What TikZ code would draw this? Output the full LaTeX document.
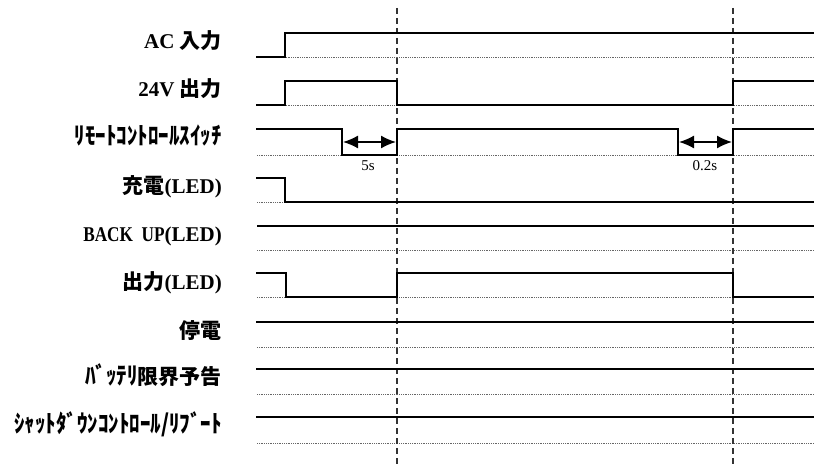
\documentclass[tikz,border=0pt]{standalone}
\usepackage{fontspec}
\usepackage{graphicx}
\setmainfont{Liberation Serif}
\newfontfamily\jp{Noto Sans CJK JP}
\usetikzlibrary{arrows.meta}
\newcommand{\kana}[1]{\scalebox{1}[1.15]{\jp\bfseries #1}}
\begin{document}
\begin{tikzpicture}[x=1pt,y=-1pt,
  sig/.style={line width=2.2pt, line join=miter, line cap=rect},
  refline/.style={line width=0.7pt, black!60, dash pattern=on 0.8pt off 1pt},
  vguide/.style={line width=1.1pt, black!80, dash pattern=on 6pt off 4pt},
  lbl/.style={anchor=base east, inner sep=0pt, font=\fontsize{21}{21}\selectfont},
  durarrow/.style={{Latex[length=15pt,width=13pt]}-{Latex[length=15pt,width=13pt]}, line width=1.6pt},
  durtxt/.style={font=\fontsize{15}{15}\selectfont, inner sep=0pt}]
\useasboundingbox (0,0) rectangle (814,465);

% reference (low level) dotted lines
\foreach \y in {57,105,155,202,250,297,347,394,443}
  \draw[refline] (257,\y) -- (814,\y);

% vertical dashed guides
\draw[vguide] (397,8) -- (397,465);
\draw[vguide] (733,8) -- (733,465);

% waveforms
\draw[sig] (257,57) -- (285,57) -- (285,33) -- (814,33);
\draw[sig] (257,105) -- (285,105) -- (285,81) -- (397,81) -- (397,105) -- (733,105) -- (733,81) -- (814,81);
\draw[sig] (257,129) -- (342,129) -- (342,155) -- (397,155) -- (397,129) -- (678,129) -- (678,155) -- (733,155) -- (733,129) -- (814,129);
\draw[sig] (257,178) -- (285,178) -- (285,202) -- (814,202);
\draw[sig] (258,226) -- (814,226);
\draw[sig] (257,273) -- (286,273) -- (286,297) -- (397,297) -- (397,273) -- (733,273) -- (733,297) -- (814,297);
\draw[sig] (257,322) -- (814,322);
\draw[sig] (257,369) -- (814,369);
\draw[sig] (257,417) -- (814,417);

% duration arrows
\coordinate (a1) at (343,142);
\coordinate (b1) at (396,142);
\coordinate (a2) at (679,142);
\coordinate (b2) at (732,142);
\draw[durarrow] (a1) -- (b1);
\draw[durarrow] (a2) -- (b2);
\node[durtxt] (t5) at (368,166) {5s};
\node[durtxt] (t02) at (705,166) {0.2s};

% labels
\node[lbl] (l1) at (222,49) {\textbf{AC} {\jp\bfseries 入力}};
\node[lbl] (l2) at (222,97) {\textbf{24V} {\jp\bfseries 出力}};
\node[lbl] (l3) at (222,145) {\kana{ﾘﾓｰﾄｺﾝﾄﾛｰﾙｽｲｯﾁ}};
\node[lbl] (l4) at (222,194) {{\jp\bfseries 充電}\textbf{(LED)}};
\node[lbl] (l5) at (222,242) {\scalebox{0.82}[1]{\textbf{BACK\ \ UP}}\textbf{(LED)}};
\node[lbl] (l6) at (222,289) {{\jp\bfseries 出力}\textbf{(LED)}};
\node[lbl] (l7) at (222,338) {\jp\bfseries 停電};
\node[lbl] (l8) at (222,384) {\kana{ﾊﾞｯﾃﾘ}{\jp\bfseries 限界予告}};
\node[lbl] (l9) at (222,432) {\kana{ｼｬｯﾄﾀﾞｳﾝｺﾝﾄﾛｰﾙ/ﾘﾌﾞｰﾄ}};
\end{tikzpicture}
\end{document}
